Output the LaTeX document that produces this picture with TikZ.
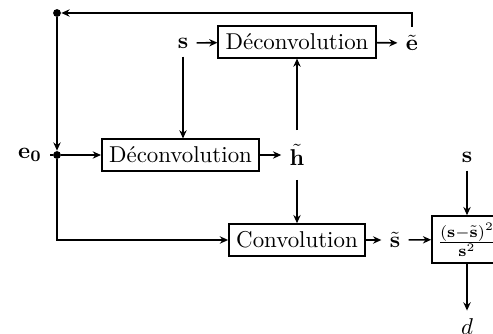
\documentclass[tikz,border=0pt]{standalone}
\usetikzlibrary{arrows.meta}
\begin{document}
\begin{tikzpicture}[x=0.4367pt,y=-0.4367pt,
  box/.style={draw,line width=0.7pt,inner xsep=3.2pt,minimum height=13pt},
  lbl/.style={inner sep=3.5pt},
  conn/.style={line width=0.7pt},
  arr/.style={conn,-{Stealth[length=3.6pt,width=3.2pt]}},
  junc/.style={circle,fill,inner sep=0pt,minimum size=3.4pt}]
\useasboundingbox (0,0) rectangle (493,333);
\node[junc] (tl) at (57,13) {};
\node[lbl] (s1) at (183,43) {$\mathbf{s}$};
\node[box] (dec1) at (297,42) {Déconvolution};
\node[lbl] (et) at (412,43) {$\tilde{\mathbf{e}}$};
\node[lbl] (e0) at (30,155) {$\mathbf{e_0}$};
\node[junc] (md) at (57,155) {};
\node[box] (dec2) at (180.5,155) {Déconvolution};
\node[lbl,inner ysep=6pt] (ht) at (297,155) {$\tilde{\mathbf{h}}$};
\node[box] (conv) at (297,240) {Convolution};
\node[lbl] (st) at (395,240) {$\tilde{\mathbf{s}}$};
\node[draw,line width=0.7pt,minimum width=30.6pt,minimum height=20.5pt,inner sep=1pt] (fr) at (467,239.5) {$\frac{(\mathbf{s}-\tilde{\mathbf{s}})^2}{\mathbf{s}^2}$};
\node[lbl] (s2) at (467,157) {$\mathbf{s}$};
\node[lbl] (d) at (467,327) {$d$};
\draw[arr] (et.north) |- (tl);
\draw[arr] (tl) -- (md);
\draw[conn] (e0) -- (md);
\draw[arr] (md) -- (dec2);
\draw[arr] (md) |- (conv.west);
\draw[arr] (s1) -- (dec1);
\draw[arr] (dec1) -- (et);
\draw[arr] (s1) -- (s1 |- dec2.north);
\draw[arr] (dec2) -- (ht);
\draw[arr] (ht) -- (dec1);
\draw[arr] (ht) -- (conv);
\draw[arr] (conv) -- (st);
\draw[arr] (st) -- (fr);
\draw[arr] (s2) -- (fr);
\draw[arr] (fr) -- (d);
\end{tikzpicture}
\end{document}
